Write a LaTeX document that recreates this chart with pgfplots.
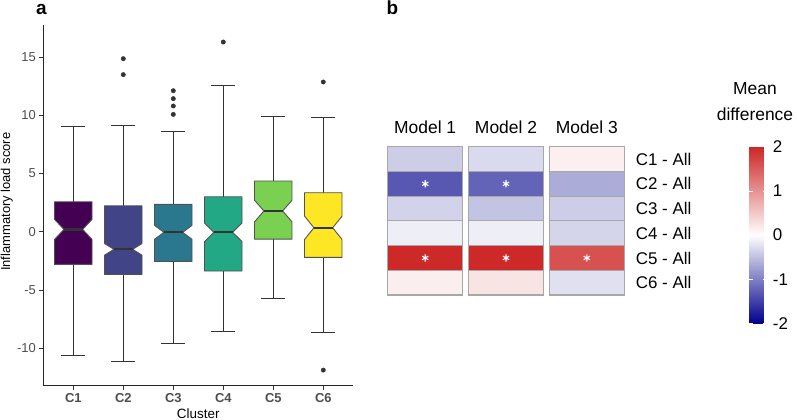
\documentclass[border=0pt]{standalone}
\usepackage{fontspec}
\setmainfont{Liberation Sans}
\usepackage{pgfplots}
\usepackage{pgfplotstable}
\pgfplotsset{compat=1.18}

\definecolor{boxline}{HTML}{333333}
\definecolor{ticktext}{HTML}{4D4D4D}
\definecolor{cellborder}{HTML}{A8A8A8}
\definecolor{vir1}{HTML}{440154}
\definecolor{vir2}{HTML}{414487}
\definecolor{vir3}{HTML}{2A788E}
\definecolor{vir4}{HTML}{22A884}
\definecolor{vir5}{HTML}{7AD151}
\definecolor{vir6}{HTML}{FDE725}

% one heatmap tile, centred on its data point
\pgfdeclareplotmark{cell}{%
  \pgfpathrectangle{\pgfpoint{-37.3bp}{-12.35bp}}{\pgfpoint{74.6bp}{24.7bp}}%
  \pgfusepathqfillstroke}

% notched box: x, lower whisker, q1, median, q3, upper whisker, notch half-height, fill
\newcommand{\nbox}[8]{%
  \pgfmathsetmacro{\xl}{#1-0.375}\pgfmathsetmacro{\xr}{#1+0.375}%
  \pgfmathsetmacro{\nl}{#1-0.1875}\pgfmathsetmacro{\nr}{#1+0.1875}%
  \pgfmathsetmacro{\cl}{#1-0.24}\pgfmathsetmacro{\cr}{#1+0.24}%
  \pgfmathsetmacro{\nlo}{#4-#7}\pgfmathsetmacro{\nhi}{#4+#7}%
  \addplot[draw=boxline, line width=0.9bp] coordinates {(#1,#5) (#1,#6)};
  \addplot[draw=boxline, line width=0.9bp] coordinates {(\cl,#6) (\cr,#6)};
  \addplot[draw=boxline, line width=0.9bp] coordinates {(#1,#3) (#1,#2)};
  \addplot[draw=boxline, line width=0.9bp] coordinates {(\cl,#2) (\cr,#2)};
  \addplot[fill=#8, draw=boxline!85, line width=0.9bp] coordinates {
    (\xl,#3) (\xl,\nlo) (\nl,#4) (\xl,\nhi) (\xl,#5)
    (\xr,#5) (\xr,\nhi) (\nr,#4) (\xr,\nlo) (\xr,#3)} --cycle;
  \addplot[draw=boxline, line width=2.2bp] coordinates {(\nl,#4) (\nr,#4)};
}

\pgfplotstableread{
x y v
1 6 -0.39
1 5 -1.31
1 4 -0.35
1 3 -0.13
1 2 1.97
1 1 0.16
2 6 -0.29
2 5 -1.22
2 4 -0.47
2 3 -0.13
2 2 1.97
2 1 0.25
3 6 0.15
3 5 -0.65
3 4 -0.39
3 3 -0.34
3 2 1.61
3 1 -0.24
}\heat

\pgfplotstableread{
x y
1 5
2 5
1 2
2 2
3 2
}\stars

\begin{document}
\begin{tikzpicture}
\useasboundingbox (0,0) rectangle (797bp,420bp);

\node[anchor=base west, inner sep=0pt, font=\fontsize{19}{19}\selectfont\bfseries] at (36bp,405bp) {a};
\node[anchor=base west, inner sep=0pt, font=\fontsize{19}{19}\selectfont\bfseries] at (386.5bp,405bp) {b};

\begin{axis}[
  at={(43.3bp,34.3bp)}, anchor=south west,
  scale only axis, width=310bp, height=360.7bp,
  xmin=0.4, xmax=6.6, ymin=-13.2, ymax=17.75,
  axis x line=bottom, axis y line=left,
  axis line style={draw=black!85, line width=0.9bp, -},
  xtick={1,2,3,4,5,6}, xticklabels={C1,C2,C3,C4,C5,C6},
  ytick={-10,-5,0,5,10,15}, yticklabels={-10,-5,0,5,10,15},
  tick align=outside, major tick length=4bp,
  tick style={draw=boxline, line width=0.9bp},
  xticklabel style={font=\fontsize{13}{15}\selectfont\bfseries, text=ticktext},
  yticklabel style={font=\fontsize{13}{15}\selectfont, text=ticktext},
  xlabel={Cluster}, ylabel={Inflammatory load score},
  xlabel style={font=\fontsize{13.5}{16}\selectfont, at={(axis description cs:0.5,0)}, anchor=base, yshift=-33bp, inner sep=0pt},
  ylabel style={font=\fontsize{13}{16}\selectfont, at={(axis description cs:-0.098,0.51)}, anchor=south, inner sep=0pt},
]
\nbox{1}{-10.58}{-2.79}{0.21}{2.58}{9.02}{0.86}{vir1}
\nbox{2}{-11.15}{-3.65}{-1.5}{2.24}{9.14}{0.5}{vir2}
\nbox{3}{-9.57}{-2.53}{-0.04}{2.36}{8.65}{0.6}{vir3}
\nbox{4}{-8.52}{-3.36}{-0.04}{3.01}{12.6}{0.8}{vir4}
\nbox{5}{-5.71}{-0.62}{1.79}{4.36}{9.91}{0.93}{vir5}
\nbox{6}{-8.63}{-2.19}{0.35}{3.36}{9.85}{1.0}{vir6}
\addplot[only marks, mark=*, mark size=2.2bp, color=boxline] coordinates {
  (2,14.86) (2,13.49) (3,12.11) (3,11.43) (3,10.8) (3,10.08)
  (4,16.29) (6,12.86) (6,-11.86)};
\end{axis}

\begin{axis}[
  at={(384.8bp,125bp)}, anchor=south west,
  scale only axis, width=242.4bp, height=148.2bp,
  xmin=0.5, xmax=3.5, ymin=0.5, ymax=6.5,
  axis line style={draw=none}, major tick length=0pt,
  xtick={1,2,3}, xticklabels={Model 1,Model 2,Model 3},
  xticklabel pos=upper,
  xticklabel style={font=\fontsize{17.5}{20}\selectfont, anchor=base, inner sep=0pt, yshift=13.5bp},
  ytick={1,2,3,4,5,6},
  yticklabels={C6 - All,C5 - All,C4 - All,C3 - All,C2 - All,C1 - All},
  yticklabel pos=right,
  yticklabel style={font=\fontsize{17}{20}\selectfont, anchor=west, inner sep=0pt, xshift=8.5bp},
  colormap={meandiff}{rgb255(0cm)=(0,0,139); rgb255(1cm)=(255,255,255); rgb255(2cm)=(205,38,38)},
  point meta min=-2, point meta max=2,
  colorbar,
  colorbar style={
    at={(parent axis.north east)}, anchor=north west, xshift=113.6bp,
    scale only axis, width=17.4bp, height=176.6bp,
    axis line style={draw=none},
    ytick={-2,-1,0,1,2}, yticklabels={-2,-1,0,1,2},
    ytick pos=both, yticklabel pos=right,
    tick align=inside, major tick length=3.5bp,
    tick style={draw=white, line width=0.7bp},
    yticklabel style={font=\fontsize{17}{20}\selectfont, anchor=west, inner sep=0pt, xshift=6bp},
    title={Mean\\difference},
    title style={at={(0.5,1)}, anchor=south, inner sep=0pt, yshift=20bp, xshift=-3bp,
      align=center, font=\fontsize{17.5}{26.4}\selectfont},
  },
]
\addplot[scatter, only marks, mark=cell, point meta=explicit,
  mark options={line width=1.1bp},
  scatter/use mapped color={draw=cellborder, fill=mapped color}]
  table[x=x, y=y, meta=v] {\heat};
\addplot[only marks, mark=asterisk, mark size=3.6bp, draw=white, mark options={line width=1.1bp}]
  table[x=x, y=y] {\stars};
\end{axis}
\end{tikzpicture}
\end{document}
